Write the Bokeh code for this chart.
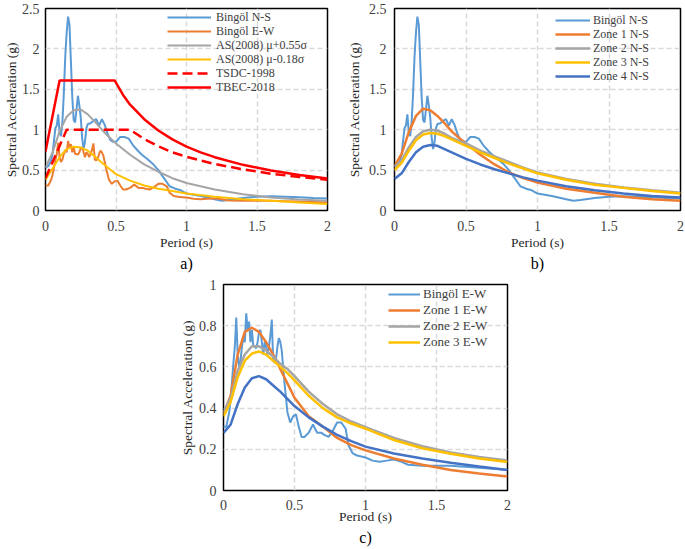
from bokeh.plotting import figure
from bokeh.models import Legend, LegendItem, FixedTicker, CustomJSTickFormatter, Title, Spacer
from bokeh.layouts import column, row
from bokeh.embed import file_html
from bokeh.resources import INLINE

FONT = "Liberation Serif"

# ---------------- data ----------------
x_ticks = [0, 0.5, 1, 1.5, 2]
y_ticks_ab = [0, 0.5, 1, 1.5, 2, 2.5]
y_ticks_c = [0, 0.2, 0.4, 0.6, 0.8, 1]

# recorded spectra (period s, Sa g)
bingol_ns = [(0, 0.53), (0.02, 0.55), (0.04, 0.62), (0.05, 0.70), (0.07, 1.02), (0.08, 1.05),
             (0.09, 1.19), (0.10, 0.97), (0.11, 0.92), (0.12, 1.10), (0.13, 1.45), (0.14, 1.90),
             (0.15, 2.20), (0.16, 2.40), (0.17, 2.30), (0.18, 1.85), (0.19, 1.40), (0.20, 1.12),
             (0.21, 1.09), (0.22, 1.25), (0.23, 1.42), (0.24, 1.30), (0.25, 1.15), (0.26, 0.90),
             (0.27, 0.76), (0.28, 0.85), (0.29, 1.02), (0.30, 1.07), (0.32, 1.08), (0.34, 1.11),
             (0.36, 1.13), (0.38, 1.05), (0.40, 1.13), (0.42, 1.06), (0.44, 0.95), (0.46, 0.87),
             (0.48, 0.85), (0.50, 0.85), (0.53, 0.91), (0.56, 0.91), (0.59, 0.89), (0.62, 0.81),
             (0.66, 0.73), (0.69, 0.68), (0.72, 0.64), (0.76, 0.58), (0.80, 0.50), (0.84, 0.40),
             (0.88, 0.30), (0.92, 0.27), (0.96, 0.25), (1.00, 0.21), (1.10, 0.18), (1.20, 0.14),
             (1.25, 0.12), (1.30, 0.13), (1.40, 0.155), (1.50, 0.17), (1.60, 0.175), (1.70, 0.17),
             (1.80, 0.165), (1.90, 0.155), (2.00, 0.15)]

bingol_ew = [(0, 0.31), (0.02, 0.31), (0.04, 0.38), (0.05, 0.44), (0.07, 0.62), (0.08, 0.70),
             (0.09, 0.84), (0.10, 0.66), (0.11, 0.60), (0.12, 0.63), (0.13, 0.70), (0.14, 0.75),
             (0.15, 0.72), (0.16, 0.86), (0.17, 0.78), (0.18, 0.82), (0.19, 0.72), (0.20, 0.78),
             (0.21, 0.70), (0.22, 0.70), (0.23, 0.69), (0.24, 0.72), (0.25, 0.77), (0.26, 0.78),
             (0.27, 0.72), (0.28, 0.66), (0.29, 0.72), (0.30, 0.70), (0.31, 0.66), (0.32, 0.70),
             (0.33, 0.75), (0.34, 0.83), (0.35, 0.63), (0.36, 0.62), (0.37, 0.64), (0.38, 0.70),
             (0.39, 0.74), (0.40, 0.72), (0.41, 0.68), (0.42, 0.60), (0.43, 0.52), (0.44, 0.45),
             (0.45, 0.38), (0.47, 0.33), (0.49, 0.36), (0.51, 0.37), (0.53, 0.31), (0.55, 0.26),
             (0.57, 0.26), (0.60, 0.28), (0.63, 0.32), (0.66, 0.28), (0.69, 0.28), (0.71, 0.27),
             (0.74, 0.26), (0.77, 0.29), (0.80, 0.33), (0.83, 0.33), (0.86, 0.30), (0.88, 0.22),
             (0.91, 0.18), (0.94, 0.17), (0.97, 0.165), (1.00, 0.16), (1.05, 0.145), (1.10, 0.14),
             (1.15, 0.145), (1.20, 0.15), (1.25, 0.14), (1.30, 0.125), (1.40, 0.12), (1.50, 0.12),
             (1.60, 0.12), (1.70, 0.115), (1.80, 0.11), (1.90, 0.105), (2.00, 0.10)]

# smooth spectra on a common period grid
period_grid = [0, 0.05, 0.1, 0.15, 0.2, 0.25, 0.3, 0.35, 0.4, 0.45, 0.5, 0.6, 0.7, 0.8, 0.9,
               1.0, 1.2, 1.4, 1.6, 1.8, 2.0]

as_plus = [0.53, 0.72, 0.98, 1.16, 1.24, 1.25, 1.19, 1.10, 1.00, 0.91, 0.83, 0.69, 0.57, 0.48,
           0.40, 0.34, 0.26, 0.20, 0.16, 0.135, 0.12]
as_minus = [0.38, 0.52, 0.66, 0.76, 0.79, 0.78, 0.74, 0.67, 0.59, 0.52, 0.45, 0.37, 0.31, 0.27,
            0.24, 0.21, 0.17, 0.14, 0.12, 0.10, 0.08]

tsdc_T = [0, 0.15, 0.6, 0.7, 0.8, 0.9, 1.0, 1.2, 1.4, 1.6, 1.8, 2.0]
tsdc_Sa = [0.40, 1.0, 1.0, 0.885, 0.795, 0.72, 0.665, 0.575, 0.51, 0.455, 0.415, 0.38]
tbec_T = [0, 0.1, 0.49, 0.55, 0.6, 0.7, 0.8, 0.9, 1.0, 1.1, 1.2, 1.4, 1.6, 1.8, 2.0]
tbec_Sa = [0.73, 1.61, 1.61, 1.43, 1.31, 1.13, 0.99, 0.88, 0.79, 0.72, 0.66, 0.565, 0.495, 0.44, 0.395]

zone1_ns = [0.55, 0.70, 0.97, 1.17, 1.26, 1.24, 1.17, 1.08, 0.98, 0.90, 0.83, 0.69, 0.57, 0.47,
            0.40, 0.345, 0.27, 0.22, 0.17, 0.14, 0.12]
zone2_ns = [0.54, 0.62, 0.78, 0.91, 0.98, 1.00, 0.99, 0.95, 0.90, 0.86, 0.83, 0.74, 0.67, 0.60,
            0.53, 0.47, 0.39, 0.33, 0.285, 0.25, 0.22]
zone3_ns = [0.50, 0.59, 0.74, 0.87, 0.94, 0.96, 0.95, 0.92, 0.88, 0.84, 0.80, 0.72, 0.65, 0.58,
            0.52, 0.46, 0.38, 0.32, 0.28, 0.24, 0.21]
zone4_ns = [0.39, 0.46, 0.60, 0.72, 0.79, 0.81, 0.80, 0.76, 0.72, 0.68, 0.64, 0.57, 0.51, 0.46,
            0.41, 0.37, 0.30, 0.25, 0.21, 0.18, 0.16]

zone1_ew = [0.37, 0.46, 0.66, 0.77, 0.79, 0.77, 0.72, 0.66, 0.59, 0.52, 0.45, 0.36, 0.31, 0.255,
            0.22, 0.195, 0.155, 0.125, 0.10, 0.083, 0.068]
zone2_ew = [0.38, 0.45, 0.58, 0.66, 0.70, 0.70, 0.68, 0.65, 0.615, 0.59, 0.555, 0.48, 0.42, 0.37,
            0.335, 0.307, 0.255, 0.215, 0.185, 0.163, 0.146]
zone3_ew = [0.36, 0.43, 0.55, 0.63, 0.665, 0.675, 0.66, 0.63, 0.60, 0.57, 0.535, 0.46, 0.40, 0.355,
            0.325, 0.30, 0.245, 0.205, 0.178, 0.155, 0.138]
zone4_ew = [0.28, 0.32, 0.42, 0.50, 0.545, 0.555, 0.54, 0.51, 0.48, 0.445, 0.41, 0.355, 0.31, 0.27,
            0.24, 0.213, 0.18, 0.155, 0.135, 0.117, 0.10]

BLUE, ORANGE, GRAY, YELLOW, RED, DBLUE = "#5B9BD5", "#ED7D31", "#A5A5A5", "#FFC000", "#FF0000", "#4472C4"


def unzip(pairs):
    return [a for a, _ in pairs], [b for _, b in pairs]


def make_fig(ymax, yticks, w, h, left, right, top, bottom, tag,
             tick_standoff=10, xlab_standoff=1, title_standoff=0, ytick_standoff=7, ylab_standoff=1):
    p = figure(width=w, height=h, x_range=(0, 2), y_range=(0, ymax),
               output_backend="svg", toolbar_location=None,
               min_border_left=left, min_border_right=right,
               min_border_top=top, min_border_bottom=bottom)
    p.xaxis.ticker = FixedTicker(ticks=x_ticks)
    p.yaxis.ticker = FixedTicker(ticks=yticks)
    fmt = CustomJSTickFormatter(code="return String(Math.round(tick*100)/100);")
    p.xaxis.formatter = fmt
    p.yaxis.formatter = fmt
    for ax in (p.xaxis, p.yaxis):
        ax.axis_line_color = None
        ax.major_tick_line_color = None
        ax.minor_tick_line_color = None
        ax.major_tick_in = 0
        ax.major_tick_out = 0
        ax.minor_tick_in = 0
        ax.minor_tick_out = 0
        ax.major_label_text_font = FONT
        ax.major_label_text_font_size = "14px"
        ax.major_label_text_color = "#404040"
        ax.axis_label_text_font = FONT
        ax.axis_label_text_font_size = "13.5px"
        ax.axis_label_text_font_style = "normal"
        ax.axis_label_text_color = "#262626"
    p.xaxis.major_label_standoff = tick_standoff
    p.yaxis.major_label_standoff = ytick_standoff
    p.xaxis.axis_label = "Period (s)"
    p.yaxis.axis_label = "Spectral Acceleration (g)"
    p.xaxis.axis_label_standoff = xlab_standoff
    p.yaxis.axis_label_standoff = ylab_standoff
    p.grid.grid_line_color = "#D9D9D9"
    p.grid.grid_line_dash = "5 3"
    p.grid.grid_line_width = 1.5
    p.outline_line_color = "black"
    p.outline_line_width = 1.5
    p.outline_line_alpha = 1
    p.add_layout(Title(text=tag, align="center", text_font=FONT, text_font_size="16px",
                       text_font_style="normal", text_color="black", standoff=title_standoff),
                 "below")
    return p


def add_legend(p, items, x, ys, glyph_w, standoff, font_size):
    # one single-item legend per row, so that the row pitch matches the original
    for (label, r), y in zip(items, ys):
        leg = Legend(items=[LegendItem(label=label, renderers=[r])],
                     location=(x, y), glyph_width=glyph_w, glyph_height=16, label_height=16,
                     label_standoff=standoff, spacing=0, padding=0, margin=0,
                     label_text_font=FONT, label_text_font_size=font_size,
                     label_text_color="#404040",
                     border_line_color=None, background_fill_alpha=0)
        p.add_layout(leg)


# ---------------- panel a ----------------
pa = make_fig(2.5, y_ticks_ab, 342, 276, 45, 15, 8, 66, "a)", ytick_standoff=6, ylab_standoff=0)
tn, sn = unzip(bingol_ns)
te, se = unzip(bingol_ew)
r1 = pa.line(tn, sn, line_color=BLUE, line_width=2)
r2 = pa.line(te, se, line_color=ORANGE, line_width=2)
r3 = pa.line(period_grid, as_plus, line_color=GRAY, line_width=2)
r4 = pa.line(period_grid, as_minus, line_color=YELLOW, line_width=2)
r5 = pa.line(tsdc_T, tsdc_Sa, line_color=RED, line_width=2.5, line_dash="10 5")
r6 = pa.line(tbec_T, tbec_Sa, line_color=RED, line_width=2.5)
add_legend(pa, [("Bingöl N-S", r1), ("Bingöl E-W", r2), ("AS(2008) μ+0.55σ", r3),
                ("AS(2008) μ-0.18σ", r4), ("TSDC-1998", r5), ("TBEC-2018", r6)],
           122, [185, 171, 157, 143, 129, 115], 44, 5, "12px")

# ---------------- panel b ----------------
pb = make_fig(2.5, y_ticks_ab, 343, 276, 52, 5, 8, 66, "b)", ytick_standoff=8, ylab_standoff=4)
q1 = pb.line(tn, sn, line_color=BLUE, line_width=2)
q2 = pb.line(period_grid, zone1_ns, line_color=ORANGE, line_width=2.5)
q3 = pb.line(period_grid, zone2_ns, line_color=GRAY, line_width=2.5)
q4 = pb.line(period_grid, zone3_ns, line_color=YELLOW, line_width=2.5)
q5 = pb.line(period_grid, zone4_ns, line_color=DBLUE, line_width=2.5)
add_legend(pb, [("Bingöl N-S", q1), ("Zone 1 N-S", q2), ("Zone 2 N-S", q3),
                ("Zone 3 N-S", q4), ("Zone 4 N-S", q5)],
           161, [182, 168, 154, 140, 126], 35, 3, "12px")

# ---------------- panel c ----------------
pc = make_fig(1, y_ticks_c, 344, 273, 50, 10, 8, 59, "c)",
              tick_standoff=9, xlab_standoff=-4, title_standoff=0)
s1 = pc.line(te, se, line_color=BLUE, line_width=2)
s2 = pc.line(period_grid, zone1_ew, line_color=ORANGE, line_width=2.5)
s3 = pc.line(period_grid, zone2_ew, line_color=GRAY, line_width=2.5)
s4 = pc.line(period_grid, zone3_ew, line_color=YELLOW, line_width=2.5)
pc.line(period_grid, zone4_ew, line_color=DBLUE, line_width=2.5)
add_legend(pc, [("Bingöl E-W", s1), ("Zone 1 E-W", s2), ("Zone 2 E-W", s3),
                ("Zone 3 E-W", s4)],
           165, [188, 172, 156, 140], 32, 3, "13px")

layout = column(row(pa, pb), row(Spacer(width=173, height=10), pc))

open("out.html", "w").write(file_html(layout, INLINE))
